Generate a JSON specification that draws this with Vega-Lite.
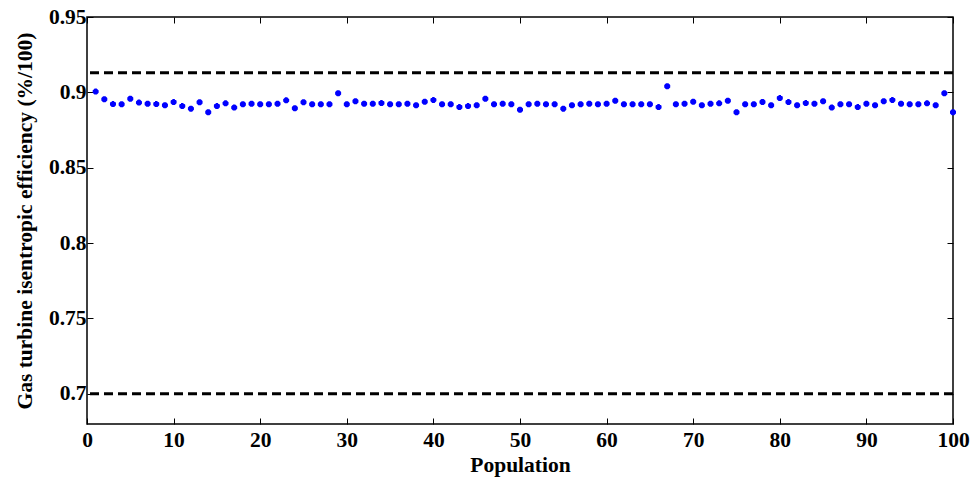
{
  "$schema": "https://vega.github.io/schema/vega-lite/v6.json",
  "width": 866,
  "height": 407,
  "autosize": {"type": "none"},
  "padding": {"left": 87, "top": 17, "right": 21, "bottom": 55},
  "background": "white",
  "config": {
    "view": {"stroke": "black", "strokeWidth": 1.5},
    "font": "Liberation Serif",
    "axis": {
      "labelFont": "Liberation Serif",
      "labelFontWeight": "bold",
      "labelFontSize": 21.5,
      "labelColor": "black",
      "titleFont": "Liberation Serif",
      "titleFontWeight": "bold",
      "titleFontSize": 21.5,
      "titleColor": "black",
      "grid": false,
      "domain": false,
      "tickColor": "black",
      "tickSize": -6,
      "tickWidth": 1
    }
  },
  "datasets": {
    "pop": [
      {"i": 1, "eff": 0.9005}, {"i": 2, "eff": 0.8954}, {"i": 3, "eff": 0.8923}, {"i": 4, "eff": 0.8921}, {"i": 5, "eff": 0.8958},
      {"i": 6, "eff": 0.8932}, {"i": 7, "eff": 0.8925}, {"i": 8, "eff": 0.8923}, {"i": 9, "eff": 0.8914}, {"i": 10, "eff": 0.8936},
      {"i": 11, "eff": 0.891}, {"i": 12, "eff": 0.8892}, {"i": 13, "eff": 0.8934}, {"i": 14, "eff": 0.8868}, {"i": 15, "eff": 0.891},
      {"i": 16, "eff": 0.8927}, {"i": 17, "eff": 0.8899}, {"i": 18, "eff": 0.8921}, {"i": 19, "eff": 0.8925}, {"i": 20, "eff": 0.8921},
      {"i": 21, "eff": 0.8921}, {"i": 22, "eff": 0.8925}, {"i": 23, "eff": 0.8947}, {"i": 24, "eff": 0.8895}, {"i": 25, "eff": 0.8934},
      {"i": 26, "eff": 0.8921}, {"i": 27, "eff": 0.8921}, {"i": 28, "eff": 0.8921}, {"i": 29, "eff": 0.8994}, {"i": 30, "eff": 0.8921},
      {"i": 31, "eff": 0.8941}, {"i": 32, "eff": 0.8925}, {"i": 33, "eff": 0.8925}, {"i": 34, "eff": 0.8929}, {"i": 35, "eff": 0.8921},
      {"i": 36, "eff": 0.8921}, {"i": 37, "eff": 0.8925}, {"i": 38, "eff": 0.8914}, {"i": 39, "eff": 0.8938}, {"i": 40, "eff": 0.895},
      {"i": 41, "eff": 0.8921}, {"i": 42, "eff": 0.8921}, {"i": 43, "eff": 0.8903}, {"i": 44, "eff": 0.891}, {"i": 45, "eff": 0.8914},
      {"i": 46, "eff": 0.8958}, {"i": 47, "eff": 0.8921}, {"i": 48, "eff": 0.8925}, {"i": 49, "eff": 0.8921}, {"i": 50, "eff": 0.8885},
      {"i": 51, "eff": 0.8921}, {"i": 52, "eff": 0.8925}, {"i": 53, "eff": 0.8921}, {"i": 54, "eff": 0.8921}, {"i": 55, "eff": 0.8892},
      {"i": 56, "eff": 0.8914}, {"i": 57, "eff": 0.8921}, {"i": 58, "eff": 0.8925}, {"i": 59, "eff": 0.8921}, {"i": 60, "eff": 0.8925},
      {"i": 61, "eff": 0.8945}, {"i": 62, "eff": 0.8921}, {"i": 63, "eff": 0.8921}, {"i": 64, "eff": 0.8921}, {"i": 65, "eff": 0.8921},
      {"i": 66, "eff": 0.8903}, {"i": 67, "eff": 0.904}, {"i": 68, "eff": 0.8921}, {"i": 69, "eff": 0.8925}, {"i": 70, "eff": 0.8938},
      {"i": 71, "eff": 0.8914}, {"i": 72, "eff": 0.8925}, {"i": 73, "eff": 0.8927}, {"i": 74, "eff": 0.8945}, {"i": 75, "eff": 0.8868},
      {"i": 76, "eff": 0.8921}, {"i": 77, "eff": 0.8921}, {"i": 78, "eff": 0.8936}, {"i": 79, "eff": 0.8914}, {"i": 80, "eff": 0.8963},
      {"i": 81, "eff": 0.8936}, {"i": 82, "eff": 0.8914}, {"i": 83, "eff": 0.8929}, {"i": 84, "eff": 0.8925}, {"i": 85, "eff": 0.8941},
      {"i": 86, "eff": 0.8899}, {"i": 87, "eff": 0.8921}, {"i": 88, "eff": 0.8921}, {"i": 89, "eff": 0.8903}, {"i": 90, "eff": 0.8925},
      {"i": 91, "eff": 0.8914}, {"i": 92, "eff": 0.8941}, {"i": 93, "eff": 0.895}, {"i": 94, "eff": 0.8925}, {"i": 95, "eff": 0.8921},
      {"i": 96, "eff": 0.8921}, {"i": 97, "eff": 0.8927}, {"i": 98, "eff": 0.8914}, {"i": 99, "eff": 0.8994}, {"i": 100, "eff": 0.8868}
    ],
    "limits": [{"lim": 0.913}, {"lim": 0.7}]
  },
  "layer": [
    {
      "data": {"name": "limits"},
      "mark": {"type": "rule", "color": "black", "strokeWidth": 3, "strokeDash": [9, 5]},
      "encoding": {
        "y": {
          "field": "lim", "type": "quantitative",
          "scale": {"domain": [0.68, 0.95], "nice": false, "zero": false},
          "axis": {
            "orient": "left",
            "title": "Gas turbine isentropic efficiency (%/100)",
            "values": [0.7, 0.75, 0.8, 0.85, 0.9, 0.95],
            "format": ".2~f",
            "labelPadding": 7,
            "titlePadding": 12
          }
        }
      }
    },
    {
      "data": {"name": "pop"},
      "mark": {
        "type": "point",
        "shape": "M-1,0L1,0M0,-1L0,1M-0.7,-0.7L0.7,0.7M-0.7,0.7L0.7,-0.7",
        "filled": false,
        "color": "#0000ff",
        "strokeWidth": 2.5,
        "size": 36,
        "opacity": 1
      },
      "encoding": {
        "x": {
          "field": "i", "type": "quantitative",
          "scale": {"domain": [0, 100], "nice": false, "zero": false},
          "axis": {
            "orient": "bottom",
            "title": "Population",
            "values": [0, 10, 20, 30, 40, 50, 60, 70, 80, 90, 100],
            "labelPadding": 11,
            "titlePadding": 4,
            "labelFlush": false
          }
        },
        "y": {
          "field": "eff", "type": "quantitative",
          "scale": {"domain": [0.68, 0.95], "nice": false, "zero": false},
          "axis": null
        }
      }
    },
    {
      "data": {"name": "limits"},
      "mark": {"type": "rule", "opacity": 0},
      "encoding": {
        "x": {
          "datum": 50, "type": "quantitative",
          "scale": {"domain": [0, 100], "nice": false, "zero": false},
          "axis": {"orient": "top", "labels": false, "title": null, "values": [0, 10, 20, 30, 40, 50, 60, 70, 80, 90, 100]}
        },
        "y": {
          "field": "lim", "type": "quantitative",
          "scale": {"domain": [0.68, 0.95], "nice": false, "zero": false},
          "axis": {"orient": "right", "labels": false, "title": null, "values": [0.7, 0.75, 0.8, 0.85, 0.9, 0.95]}
        }
      }
    }
  ],
  "resolve": {"axis": {"x": "independent", "y": "independent"}}
}
